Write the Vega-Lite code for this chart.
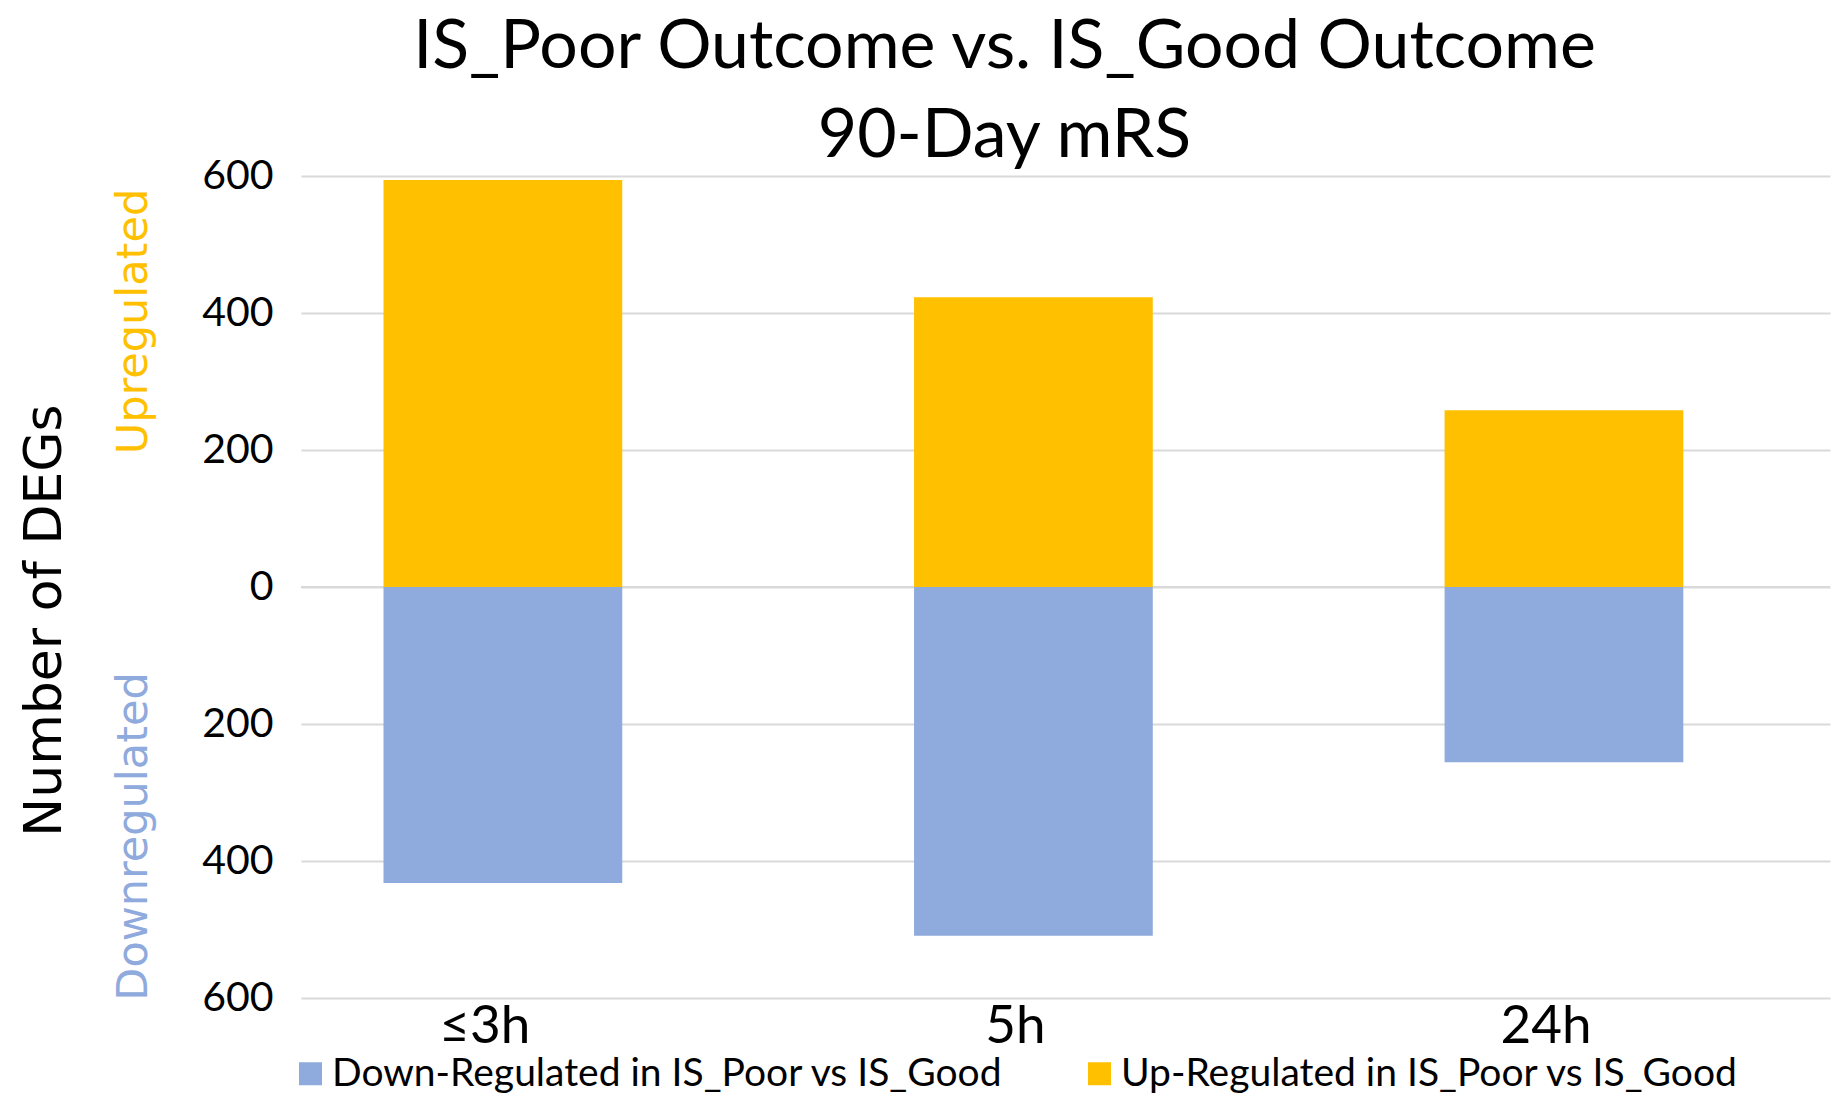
{
  "$schema": "https://vega.github.io/schema/vega-lite/v6.json",
  "width": 1529,
  "height": 822,
  "autosize": "none",
  "padding": {"left": 301, "top": 176, "right": 14, "bottom": 114},
  "background": "white",
  "title": {
    "text": ["IS_Poor Outcome vs. IS_Good Outcome", "90-Day mRS"],
    "font": "Lato",
    "fontSize": 68,
    "fontWeight": "normal",
    "color": "black",
    "lineHeight": 89,
    "anchor": "middle",
    "frame": "group",
    "dx": -61,
    "offset": -16
  },
  "data": {
    "values": [
      {"time": "≤3h", "type": "Up-Regulated in IS_Poor vs IS_Good", "value": 594},
      {"time": "≤3h", "type": "Down-Regulated in IS_Poor vs IS_Good", "value": -432},
      {"time": "5h", "type": "Up-Regulated in IS_Poor vs IS_Good", "value": 423},
      {"time": "5h", "type": "Down-Regulated in IS_Poor vs IS_Good", "value": -509},
      {"time": "24h", "type": "Up-Regulated in IS_Poor vs IS_Good", "value": 258},
      {"time": "24h", "type": "Down-Regulated in IS_Poor vs IS_Good", "value": -256}
    ]
  },
  "layer": [
    {
      "mark": {"type": "rule", "color": "#D9D9D9", "strokeWidth": 2},
      "encoding": {
        "y": {
          "datum": 0,
          "type": "quantitative",
          "scale": {"domain": [-600, 600], "nice": false, "zero": true},
          "axis": {
            "orient": "left",
            "values": [-600, -400, -200, 0, 200, 400, 600],
            "labelExpr": "format(abs(datum.value), 'd')",
            "labelFont": "Lato",
            "labelFontSize": 41,
            "labelColor": "black",
            "labelPadding": 28,
            "ticks": false,
            "domain": false,
            "grid": true,
            "gridColor": "#D9D9D9",
            "gridWidth": 2,
            "title": "Number of DEGs",
            "titleFont": "DejaVu Sans",
            "titleFontSize": 52,
            "titleFontWeight": "normal",
            "titleColor": "black",
            "titlePadding": 130,
            "titleY": 444
          }
        }
      }
    },
    {
      "transform": [{"filter": "datum.value > 0"}],
      "mark": {"type": "bar"},
      "encoding": {
        "x": {
          "field": "time",
          "type": "nominal",
          "sort": ["≤3h", "5h", "24h"],
          "scale": {"paddingInner": 0.55, "paddingOuter": 0.216, "align": 0.36},
          "axis": {
            "title": null,
            "labelFont": "Lato",
            "labelFontSize": 53,
            "labelColor": "black",
            "labelAngle": 0,
            "labelPadding": 2,
            "labelOffset": -18,
            "ticks": false,
            "domain": false
          }
        },
        "y": {
          "field": "value",
          "type": "quantitative",
          "stack": null,
          "axis": {
            "orient": "left",
            "labels": false,
            "ticks": false,
            "domain": false,
            "grid": false,
            "title": "Upregulated",
            "titleFont": "DejaVu Sans",
            "titleFontSize": 43,
            "titleFontWeight": "normal",
            "titleColor": "#FFC000",
            "titlePadding": 146,
            "titleY": 145
          }
        },
        "color": {
          "field": "type",
          "type": "nominal",
          "scale": {
            "domain": ["Down-Regulated in IS_Poor vs IS_Good", "Up-Regulated in IS_Poor vs IS_Good"],
            "range": ["#8FAADC", "#FFC000"]
          },
          "legend": {
            "title": null,
            "orient": "none",
            "legendX": -10,
            "legendY": 878,
            "direction": "horizontal",
            "labelFont": "Lato",
            "labelFontSize": 39,
            "labelColor": "black",
            "labelLimit": 2000,
            "symbolType": "square",
            "symbolSize": 529,
            "symbolStrokeWidth": 0,
            "symbolOpacity": 1,
            "labelOffset": 2,
            "columnPadding": 76,
            "padding": 0
          }
        }
      }
    },
    {
      "transform": [{"filter": "datum.value < 0"}],
      "mark": {"type": "bar"},
      "encoding": {
        "x": {"field": "time", "type": "nominal", "sort": ["≤3h", "5h", "24h"]},
        "y": {
          "field": "value",
          "type": "quantitative",
          "stack": null,
          "axis": {
            "orient": "left",
            "labels": false,
            "ticks": false,
            "domain": false,
            "grid": false,
            "title": "Downregulated",
            "titleFont": "DejaVu Sans",
            "titleFontSize": 43,
            "titleFontWeight": "normal",
            "titleColor": "#8FAADC",
            "titlePadding": 146,
            "titleY": 660
          }
        },
        "color": {"field": "type", "type": "nominal"}
      }
    }
  ],
  "resolve": {"axis": {"y": "independent"}},
  "config": {"view": {"stroke": null}}
}
